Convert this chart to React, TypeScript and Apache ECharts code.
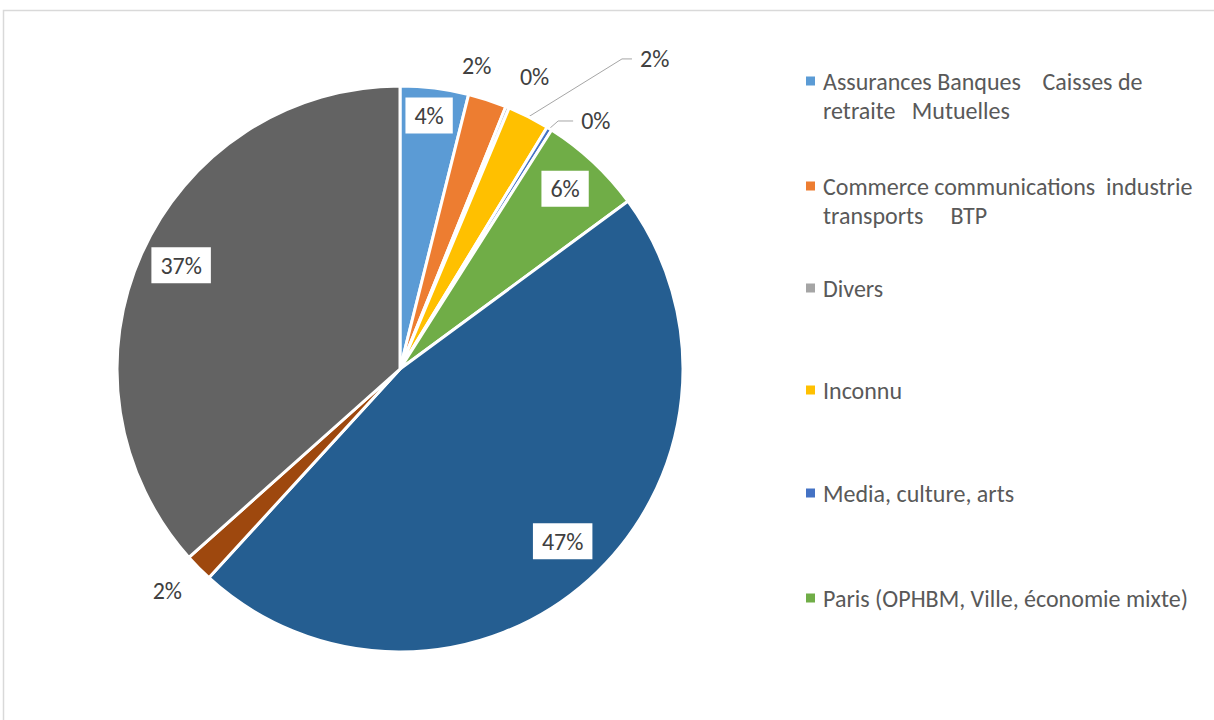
import React, { useEffect, useRef } from "react";
import * as echarts from "echarts";

const CATEGORIES = [
  "Assurances Banques    Caisses de retraite   Mutuelles",
  "Commerce communications  industrie transports     BTP",
  "Divers",
  "Inconnu",
  "Media, culture, arts",
  "Paris (OPHBM, Ville, économie mixte)",
  "Particuliers",
  "Services publics",
  "Sociétés immobilières",
];
const VALUES = [3.9, 2.2, 0.2, 2.4, 0.3, 5.9, 46.9, 1.6, 36.6];
const COLORS = [
  "#5B9BD5",
  "#ED7D31",
  "#A5A5A5",
  "#FFC000",
  "#4472C4",
  "#70AD47",
  "#255E91",
  "#9E480E",
  "#636363",
];
// how each slice's percent label is drawn
const LABEL_KIND = ["box", "plain", "plain", "leader", "leader", "box", "box", "plain", "box"];
// leader line lengths [radial, horizontal, final horizontal tail] for "leader" labels
const LEADER_LEN: Record<number, [number, number, number]> = { 3: [65, 74, 10], 4: [9, 19, 15] };
// small nudges for labels (Excel best-fit placement)
const PLAIN_NUDGE: Record<number, [number, number]> = { 1: [-23, 3], 2: [12, 6], 7: [-3, -5] };
const BOX_NUDGE: Record<number, [number, number]> = { 0: [-1, -9], 5: [-3, 0], 6: [-2, -11], 8: [6, -3] };

const LEGEND_COUNT = 6;
const LEGEND_TEXT = [
  "Assurances Banques    Caisses de\nretraite   Mutuelles",
  "Commerce communications  industrie\ntransports     BTP",
  "Divers",
  "Inconnu",
  "Media, culture, arts",
  "Paris (OPHBM, Ville, économie mixte)",
];
const LEGEND_Y = [81, 186, 288, 390, 493, 598];

const FONT = "Calibri, Carlito, Lato, sans-serif";
const CX = 400;
const CY = 369;
const R = 283;
const LINE_H = 29;

const pct = (p: any) => Math.round(p.percent) + "%";

export default function App() {
  const ref = useRef<HTMLDivElement>(null);
  useEffect(() => {
    if (!ref.current) return;
    const chart = echarts.init(ref.current, undefined, { renderer: "svg" });

    const mainData = CATEGORIES.map((name, i) => {
      const isLeader = LABEL_KIND[i] === "leader";
      const len = LEADER_LEN[i] || [0, 0, 0];
      return {
        name,
        value: VALUES[i],
        itemStyle: { color: COLORS[i] },
        label: { show: isLeader },
        labelLine: { show: isLeader, length: len[0], length2: len[1] },
      };
    });
    const boxData = CATEGORIES.map((name, i) => ({
      name,
      value: VALUES[i],
      label: { show: LABEL_KIND[i] === "box" },
    }));
    const plainData = CATEGORIES.map((name, i) => ({
      name,
      value: VALUES[i],
      label: { show: LABEL_KIND[i] === "plain" },
    }));

    const labelText = {
      color: "#404040",
      fontSize: 24,
      fontFamily: FONT,
    };

    const legends = LEGEND_TEXT.slice(0, LEGEND_COUNT).map((txt, i) => {
      const twoLine = txt.indexOf("\n") >= 0;
      // for two-line entries, the icon box is taller (square at its top), so
      // the square lines up with the first text line
      const iconH = twoLine ? 9 + LINE_H : 9;
      return {
        data: [CATEGORIES[i]],
        orient: "vertical",
        left: 806,
        top: LEGEND_Y[i] - 4.5 - 10,
        padding: 0,
        icon: twoLine ? "path://M0 0H9V9H0ZM0 38H0.01V38.01H0Z" : "rect",
        itemWidth: 9,
        itemHeight: iconH,
        selectedMode: false,
        itemStyle: { borderWidth: 0 },
        formatter: () => txt,
        textStyle: {
          color: "#595959",
          fontSize: 24,
          fontFamily: FONT,
          lineHeight: LINE_H,
          padding: [0, 0, 0, 3],
        },
      };
    });

    chart.setOption({
      animation: false,
      backgroundColor: "#ffffff",
      legend: legends,
      graphic: [
        {
          type: "rect",
          silent: true,
          z: -10,
          shape: { x: 3.5, y: 10.5, width: 1300, height: 800 },
          style: { fill: "none", stroke: "#D9D9D9", lineWidth: 1.5 },
        },
      ],
      series: [
        {
          type: "pie",
          center: [CX, CY],
          radius: R,
          startAngle: 90,
          avoidLabelOverlap: false,
          silent: true,
          emphasis: { disabled: true },
          itemStyle: { borderColor: "#ffffff", borderWidth: 3 },
          label: {
            position: "outside",
            formatter: pct,
            distanceToLabelLine: 8,
            ...labelText,
          },
          labelLine: { lineStyle: { color: "#A6A6A6", width: 1 } },
          labelLayout: (p: any) => {
            const len = LEADER_LEN[p.dataIndex];
            const pts = p.labelLinePoints;
            if (!len || !pts || pts.length < 3) return {};
            const end = pts[pts.length - 1];
            return { labelLinePoints: [pts[0], [end[0] - len[2], end[1]], end] };
          },
          data: mainData,
        },
        {
          type: "pie",
          center: [CX, CY],
          radius: [R * 0.72, R],
          startAngle: 90,
          avoidLabelOverlap: false,
          silent: true,
          emphasis: { disabled: true },
          itemStyle: { color: "rgba(0,0,0,0)", borderWidth: 0 },
          label: {
            position: "inside",
            formatter: pct,
            backgroundColor: "#ffffff",
            padding: [6, 9, 6, 9],
            ...labelText,
          },
          labelLine: { show: false },
          labelLayout: (p: any) => {
            const n = BOX_NUDGE[p.dataIndex];
            return n ? { dx: n[0], dy: n[1] } : {};
          },
          data: boxData,
        },
        {
          type: "pie",
          center: [CX, CY],
          radius: [R * 1.05, R * 1.21],
          startAngle: 90,
          avoidLabelOverlap: false,
          silent: true,
          emphasis: { disabled: true },
          itemStyle: { color: "rgba(0,0,0,0)", borderWidth: 0 },
          label: {
            position: "inside",
            formatter: pct,
            ...labelText,
          },
          labelLine: { show: false },
          labelLayout: (p: any) => {
            const n = PLAIN_NUDGE[p.dataIndex];
            return n ? { dx: n[0], dy: n[1] } : {};
          },
          data: plainData,
        },
      ],
    });
    return () => chart.dispose();
  }, []);
  return (
    <div
      ref={ref}
      style={{ position: "absolute", left: 0, top: 0, width: 1214, height: 720 }}
    />
  );
}
